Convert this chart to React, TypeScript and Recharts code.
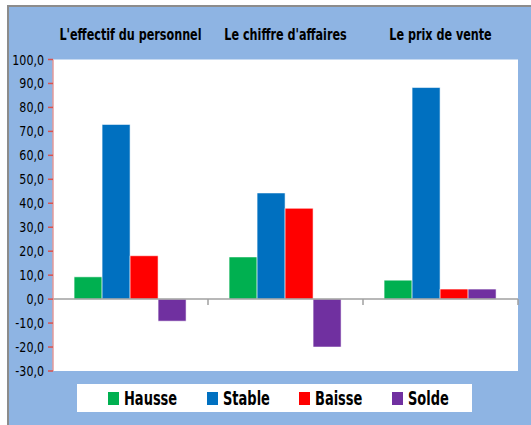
import { BarChart, Bar, XAxis, YAxis, CartesianGrid, ReferenceLine, Legend } from 'recharts';

const categories = ["L'effectif du personnel", "Le chiffre d'affaires", 'Le prix de vente'];
const hausse = [9.3, 17.6, 7.9];
const stable = [72.9, 44.3, 88.3];
const baisse = [18.1, 37.9, 4.2];
const solde = [-9.2, -20.0, 4.2];
const yTicks = [-30, -20, -10, 0, 10, 20, 30, 40, 50, 60, 70, 80, 90, 100];

const series = [
  { key: 'hausse', name: 'Hausse', color: '#00b050' },
  { key: 'stable', name: 'Stable', color: '#0070c0' },
  { key: 'baisse', name: 'Baisse', color: '#ff0000' },
  { key: 'solde', name: 'Solde', color: '#7030a0' },
];

const data = categories.map((name, i) => ({
  name,
  hausse: hausse[i],
  stable: stable[i],
  baisse: baisse[i],
  solde: solde[i],
}));

const FONT = '"DejaVu Sans Condensed", "DejaVu Sans", sans-serif';

// narrow the text horizontally, the original uses a condensed face
const TitleTick = (props: any) => {
  const { x, y, payload } = props;
  return (
    <text
      transform={`translate(${x},${y - 20}) scale(0.83,1)`}
      textAnchor="middle"
      fontFamily={FONT}
      fontSize={15}
      fontWeight="bold"
      fill="#000"
    >
      {payload.value}
    </text>
  );
};

const ValueTick = (props: any) => {
  const { x, y, payload } = props;
  return (
    <text
      transform={`translate(${x},${y + 5}) scale(0.88,1)`}
      textAnchor="end"
      fontFamily={FONT}
      fontSize={14}
      fill="#000"
    >
      {payload.value.toFixed(1).replace('.', ',')}
    </text>
  );
};

// zero line with the small tick marks at category boundaries
const ZeroLine = (props: any) => {
  const { x1, y1, x2 } = props;
  const step = (x2 - x1) / categories.length;
  return (
    <g>
      <line x1={x1} y1={y1} x2={x2} y2={y1} stroke="#a0a0a0" strokeWidth={1.5} />
      {categories.map((_, i) => (
        <line key={i} x1={x1 + step * (i + 1)} y1={y1} x2={x1 + step * (i + 1)} y2={y1 + 6} stroke="#a0a0a0" strokeWidth={1.5} />
      ))}
    </g>
  );
};

const legendOffsets = [31, 130, 222, 315];

const LegendBox = () => (
  <div style={{ position: 'relative', width: 395, height: 28, background: '#fff' }}>
    {series.map((s, i) => (
      <div key={s.key} style={{ position: 'absolute', left: legendOffsets[i], top: 0, height: 28, display: 'flex', alignItems: 'center' }}>
        <span style={{ display: 'inline-block', width: 11, height: 13, background: s.color, marginRight: 5 }} />
        <span
          style={{
            display: 'inline-block',
            fontFamily: FONT,
            fontSize: 19,
            fontWeight: 'bold',
            color: '#000',
            transform: 'scaleX(0.76)',
            transformOrigin: 'left center',
            whiteSpace: 'nowrap',
          }}
        >
          {s.name}
        </span>
      </div>
    ))}
  </div>
);

export default function App() {
  return (
    <div
      style={{
        position: 'absolute',
        left: 7,
        top: 5,
        width: 522,
        height: 418,
        background: '#8eb4e3',
        borderLeft: '2px solid #8c8c8c',
        borderTop: '2px solid #8c8c8c',
      }}
    >
      <BarChart
        width={522}
        height={418}
        data={data}
        margin={{ top: 22.5, right: 13, bottom: 54, left: 0 }}
        barCategoryGap="13.6%"
        barGap={0}
      >
        <CartesianGrid fill="#ffffff" horizontal={false} vertical={false} />
        <XAxis
          dataKey="name"
          orientation="top"
          height={30}
          axisLine={false}
          tickLine={false}
          tickSize={0}
          tickMargin={0}
          tick={<TitleTick />}
          interval={0}
        />
        <YAxis
          width={44}
          domain={[-30, 100]}
          ticks={yTicks}
          interval={0}
          axisLine={{ stroke: '#e39a9a', strokeWidth: 1.5 }}
          tickLine={{ stroke: '#d9534f', strokeWidth: 1.5 }}
          tickSize={5}
          tickMargin={4}
          tick={<ValueTick />}
        />
        {series.map((s) => (
          <Bar
            key={s.key}
            dataKey={s.key}
            name={s.name}
            fill={s.color}
            stroke="rgba(255,255,255,0.55)"
            strokeWidth={1}
            isAnimationActive={false}
          />
        ))}
        <ReferenceLine y={0} shape={<ZeroLine />} />
        <Legend
          layout="horizontal"
          verticalAlign="middle"
          content={<LegendBox />}
          wrapperStyle={{ position: 'absolute', left: 68, top: 377, width: 395, height: 28 }}
        />
      </BarChart>
    </div>
  );
}
